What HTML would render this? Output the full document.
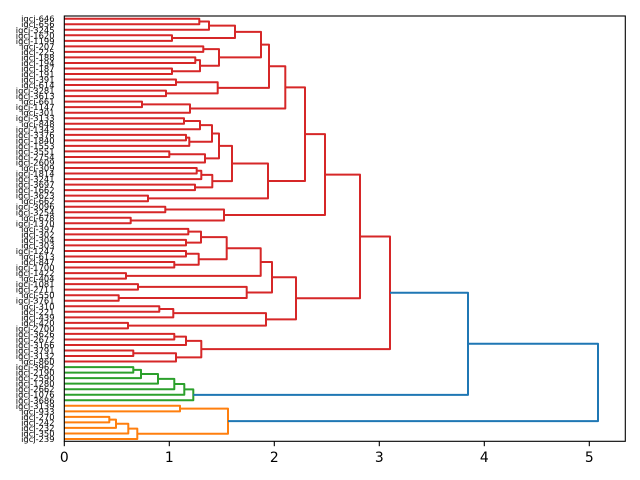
<!DOCTYPE html>
<html>
<head>
<meta charset="utf-8">
<style>
  html, body { margin: 0; padding: 0; background: #ffffff; }
  svg { display: block; }
  .lbl { font-family: "DejaVu Sans", "Liberation Sans", sans-serif; font-size: 8.33px; fill: #000; }
  .tk { font-family: "DejaVu Sans", "Liberation Sans", sans-serif; font-size: 13.9px; fill: #000; }
  .r path, .g path, .o path, .b path { fill: none; stroke-width: 2; stroke-linejoin: round; }
  .r path { stroke: #d62728; }
  .g path { stroke: #2ca02c; }
  .o path { stroke: #ff7f0e; }
  .b path { stroke: #1f77b4; }
</style>
</head>
<body>
<svg width="640" height="480" viewBox="0 0 640 480" xmlns="http://www.w3.org/2000/svg">
<rect x="0" y="0" width="640" height="480" fill="#ffffff"/>

<g class="r">
<path d="M64.3 18.70 H199.3 V24.23 H64.3"/>
<path d="M199.3 21.47 H209 V29.76 H64.3"/>
<path d="M64.3 35.29 H172 V40.82 H64.3"/>
<path d="M209 25.61 H235 V38.06 H172"/>
<path d="M64.3 46.35 H203.3 V51.88 H64.3"/>
<path d="M64.3 57.41 H195.3 V62.94 H64.3"/>
<path d="M64.3 68.47 H172 V74.00 H64.3"/>
<path d="M195.3 60.18 H200 V71.24 H172"/>
<path d="M203.3 49.12 H219 V65.71 H200"/>
<path d="M235 31.83 H261 V57.41 H219"/>
<path d="M64.3 79.53 H176 V85.06 H64.3"/>
<path d="M64.3 90.59 H166 V96.12 H64.3"/>
<path d="M176 82.30 H217.7 V93.36 H166"/>
<path d="M261 44.62 H269 V87.83 H217.7"/>
<path d="M64.3 101.65 H142 V107.18 H64.3"/>
<path d="M142 104.42 H190 V112.71 H64.3"/>
<path d="M269 66.22 H285.3 V108.56 H190"/>

<path d="M64.3 118.24 H184 V123.77 H64.3"/>
<path d="M184 121.01 H200 V129.30 H64.3"/>
<path d="M64.3 134.83 H186 V140.36 H64.3"/>
<path d="M186 137.60 H189.3 V145.89 H64.3"/>
<path d="M200 125.15 H212 V141.74 H189.3"/>
<path d="M64.3 151.42 H169.3 V156.95 H64.3"/>
<path d="M169.3 154.19 H205 V162.48 H64.3"/>
<path d="M212 133.45 H219 V158.33 H205"/>
<path d="M64.3 168.01 H196.7 V173.54 H64.3"/>
<path d="M196.7 170.78 H201.3 V179.07 H64.3"/>
<path d="M64.3 184.60 H195 V190.13 H64.3"/>
<path d="M201.3 174.92 H212.3 V187.37 H195"/>
<path d="M219 145.89 H232 V181.14 H212.3"/>
<path d="M64.3 195.66 H148 V201.19 H64.3"/>
<path d="M232 163.52 H268 V198.43 H148"/>
<path d="M64.3 206.72 H165.3 V212.25 H64.3"/>
<path d="M64.3 217.78 H130.7 V223.31 H64.3"/>
<path d="M165.3 209.49 H224 V220.55 H130.7"/>

<path d="M285.3 87.39 H305 V180.97 H268"/>
<path d="M305 134.18 H325 V215.02 H224"/>

<path d="M64.3 228.84 H188.3 V234.37 H64.3"/>
<path d="M64.3 239.90 H186 V245.43 H64.3"/>
<path d="M188.3 231.61 H201 V242.67 H186"/>
<path d="M64.3 250.96 H186 V256.49 H64.3"/>
<path d="M64.3 262.02 H174.3 V267.55 H64.3"/>
<path d="M186 253.73 H198.7 V264.79 H174.3"/>
<path d="M201 237.14 H226.7 V259.26 H198.7"/>
<path d="M64.3 273.08 H126 V278.61 H64.3"/>
<path d="M226.7 248.20 H260.7 V275.85 H126"/>
<path d="M64.3 284.14 H138 V289.67 H64.3"/>
<path d="M64.3 295.20 H118.7 V300.73 H64.3"/>
<path d="M138 286.91 H246.7 V297.97 H118.7"/>
<path d="M260.7 262.02 H272 V292.44 H246.7"/>
<path d="M64.3 306.26 H159.3 V311.79 H64.3"/>
<path d="M159.3 309.03 H173.3 V317.32 H64.3"/>
<path d="M64.3 322.85 H128 V328.38 H64.3"/>
<path d="M173.3 313.17 H266 V325.62 H128"/>
<path d="M272 277.23 H296 V319.39 H266"/>

<path d="M325 174.60 H360 V298.31 H296"/>

<path d="M64.3 333.91 H174.3 V339.44 H64.3"/>
<path d="M174.3 336.68 H186 V344.97 H64.3"/>
<path d="M64.3 350.50 H133.3 V356.03 H64.3"/>
<path d="M133.3 353.27 H176 V361.56 H64.3"/>
<path d="M186 340.82 H201.3 V357.41 H176"/>

<path d="M360 236.46 H390 V349.12 H201.3"/>
</g>

<g class="g">
<path d="M64.3 367.09 H133.3 V372.62 H64.3"/>
<path d="M133.3 369.86 H141 V378.15 H64.3"/>
<path d="M141 374.00 H158 V383.68 H64.3"/>
<path d="M158 378.84 H174.3 V389.21 H64.3"/>
<path d="M174.3 384.03 H184.3 V394.74 H64.3"/>
<path d="M184.3 389.38 H193.3 V400.27 H64.3"/>
</g>

<g class="o">
<path d="M64.3 405.80 H180 V411.33 H64.3"/>
<path d="M64.3 416.86 H109.3 V422.39 H64.3"/>
<path d="M109.3 419.63 H116 V427.92 H64.3"/>
<path d="M116 423.77 H128.3 V433.45 H64.3"/>
<path d="M128.3 428.61 H137.3 V438.98 H64.3"/>
<path d="M180 408.57 H228 V433.80 H137.3"/>
</g>

<g class="b">
<path d="M390 292.79 H468 V394.83 H193.3"/>
<path d="M468 343.81 H598 V421.18 H228"/>
</g>

<!-- axes frame -->
<rect x="64.3" y="16" width="561" height="425.3" fill="none" stroke="#000" stroke-width="1.1"/>

<!-- x ticks -->
<g stroke="#000" stroke-width="1.1">
<line x1="64.3" y1="441.3" x2="64.3" y2="446.2"/>
<line x1="169.3" y1="441.3" x2="169.3" y2="446.2"/>
<line x1="274.3" y1="441.3" x2="274.3" y2="446.2"/>
<line x1="379.3" y1="441.3" x2="379.3" y2="446.2"/>
<line x1="484.3" y1="441.3" x2="484.3" y2="446.2"/>
<line x1="589.3" y1="441.3" x2="589.3" y2="446.2"/>
</g>
<g class="tk" text-anchor="middle">
<text x="64.3" y="462">0</text>
<text x="169.3" y="462">1</text>
<text x="274.3" y="462">2</text>
<text x="379.3" y="462">3</text>
<text x="484.3" y="462">4</text>
<text x="589.3" y="462">5</text>
</g>

<!-- leaf labels -->
<g class="lbl" text-anchor="end">
<text x="54.5" y="21.70">igcj-646</text>
<text x="54.5" y="27.23">igcj-656</text>
<text x="54.5" y="32.76">igcj-3245</text>
<text x="54.5" y="38.29">igcj-1620</text>
<text x="54.5" y="43.82">igcj-1199</text>
<text x="54.5" y="49.35">igcj-207</text>
<text x="54.5" y="54.88">igcj-225</text>
<text x="54.5" y="60.41">igcj-188</text>
<text x="54.5" y="65.94">igcj-194</text>
<text x="54.5" y="71.47">igcj-187</text>
<text x="54.5" y="77.00">igcj-191</text>
<text x="54.5" y="82.53">igcj-391</text>
<text x="54.5" y="88.06">igcj-614</text>
<text x="54.5" y="93.59">igcj-3281</text>
<text x="54.5" y="99.12">igcj-3613</text>
<text x="54.5" y="104.65">igcj-661</text>
<text x="54.5" y="110.18">igcj-1147</text>
<text x="54.5" y="115.71">igcj-301</text>
<text x="54.5" y="121.24">igcj-3133</text>
<text x="54.5" y="126.77">igcj-848</text>
<text x="54.5" y="132.30">igcj-1343</text>
<text x="54.5" y="137.83">igcj-3376</text>
<text x="54.5" y="143.36">igcj-1840</text>
<text x="54.5" y="148.89">igcj-1553</text>
<text x="54.5" y="154.42">igcj-3551</text>
<text x="54.5" y="159.95">igcj-2754</text>
<text x="54.5" y="165.48">igcj-2609</text>
<text x="54.5" y="171.01">igcj-309</text>
<text x="54.5" y="176.54">igcj-1814</text>
<text x="54.5" y="182.07">igcj-3241</text>
<text x="54.5" y="187.60">igcj-3697</text>
<text x="54.5" y="193.13">igcj-1662</text>
<text x="54.5" y="198.66">igcj-3623</text>
<text x="54.5" y="204.19">igcj-662</text>
<text x="54.5" y="209.72">igcj-3096</text>
<text x="54.5" y="215.25">igcj-3254</text>
<text x="54.5" y="220.78">igcj-678</text>
<text x="54.5" y="226.31">igcj-1370</text>
<text x="54.5" y="231.84">igcj-397</text>
<text x="54.5" y="237.37">igcj-302</text>
<text x="54.5" y="242.90">igcj-304</text>
<text x="54.5" y="248.43">igcj-303</text>
<text x="54.5" y="253.96">igcj-1247</text>
<text x="54.5" y="259.49">igcj-613</text>
<text x="54.5" y="265.02">igcj-847</text>
<text x="54.5" y="270.55">igcj-1700</text>
<text x="54.5" y="276.08">igcj-1422</text>
<text x="54.5" y="281.61">igcj-404</text>
<text x="54.5" y="287.14">igcj-1081</text>
<text x="54.5" y="292.67">igcj-2711</text>
<text x="54.5" y="298.20">igcj-550</text>
<text x="54.5" y="303.73">igcj-3761</text>
<text x="54.5" y="309.26">igcj-310</text>
<text x="54.5" y="314.79">igcj-221</text>
<text x="54.5" y="320.32">igcj-439</text>
<text x="54.5" y="325.85">igcj-420</text>
<text x="54.5" y="331.38">igcj-2700</text>
<text x="54.5" y="336.91">igcj-3626</text>
<text x="54.5" y="342.44">igcj-2672</text>
<text x="54.5" y="347.97">igcj-3166</text>
<text x="54.5" y="353.50">igcj-3791</text>
<text x="54.5" y="359.03">igcj-3132</text>
<text x="54.5" y="364.56">igcj-860</text>
<text x="54.5" y="370.09">igcj-3962</text>
<text x="54.5" y="375.62">igcj-2190</text>
<text x="54.5" y="381.15">igcj-2590</text>
<text x="54.5" y="386.68">igcj-1280</text>
<text x="54.5" y="392.21">igcj-2662</text>
<text x="54.5" y="397.74">igcj-1076</text>
<text x="54.5" y="403.27">igcj-3686</text>
<text x="54.5" y="408.80">igcj-3139</text>
<text x="54.5" y="414.33">igcj-933</text>
<text x="54.5" y="419.86">igcj-270</text>
<text x="54.5" y="425.39">igcj-242</text>
<text x="54.5" y="430.92">igcj-232</text>
<text x="54.5" y="436.45">igcj-350</text>
<text x="54.5" y="441.98">igcj-239</text>
</g>
</svg>
</body>
</html>
